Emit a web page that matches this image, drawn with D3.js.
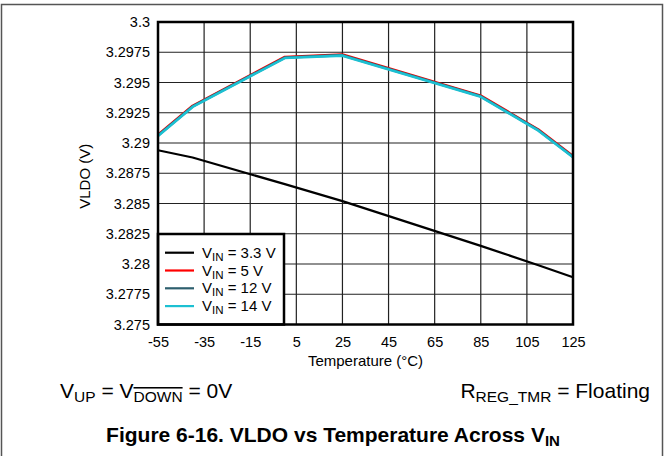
<!DOCTYPE html>
<html>
<head>
<meta charset="utf-8">
<script src="https://cdn.jsdelivr.net/npm/d3@7"></script>
<style>
  html, body { margin: 0; padding: 0; background: #fff; }
  svg { display: block; font-family: "Liberation Sans", Arial, sans-serif; }
</style>
</head>
<body>
<svg id="chart" width="668" height="456"></svg>
<script>
// ---- data ----
const temps = [-55, -40, 0, 25, 85, 110, 125];
const vin33 = [3.2894, 3.2888, 3.2866, 3.2852, 3.2815, 3.2799, 3.2789];
const vin5  = [3.29068, 3.29308, 3.29712, 3.29732, 3.29392, 3.29112, 3.28892];
const vin12 = [3.29062, 3.29302, 3.29706, 3.29726, 3.29386, 3.29106, 3.28886];
const vin14 = [3.29058, 3.29298, 3.29702, 3.29722, 3.29382, 3.29102, 3.28882];
const seriesNames = ["3.3 V", "5 V", "12 V", "14 V"];
const seriesColors = ["#000000", "#ff0000", "#2e5f6e", "#1cc0d2"];
const xTicks = [-55, -35, -15, 5, 25, 45, 65, 85, 105, 125];
const yTicks = [3.275, 3.2775, 3.28, 3.2825, 3.285, 3.2875, 3.29, 3.2925, 3.295, 3.2975, 3.3];
const yTickLabels = ["3.275", "3.2775", "3.28", "3.2825", "3.285", "3.2875", "3.29", "3.2925", "3.295", "3.2975", "3.3"];

const svg = d3.select("#chart");
const L = 158, R = 573, T = 22, B = 324.5;
const FONT = "Liberation Sans, Arial, sans-serif";

const x = d3.scaleLinear().domain([-55, 125]).range([L, R]);
const y = d3.scaleLinear().domain([3.275, 3.3]).range([B, T]);

// outer frame
svg.append("path")
  .attr("d", `M1.5,460 L1.5,4.5 L662.5,4.5 L662.5,460`)
  .attr("fill", "none").attr("stroke", "#555").attr("stroke-width", 1.5);

// grid
const g = svg.append("g");
g.selectAll("line.vx").data(xTicks.slice(1, -1)).enter().append("line")
  .attr("x1", d => x(d)).attr("x2", d => x(d)).attr("y1", T).attr("y2", B)
  .attr("stroke", "#222").attr("stroke-width", 1.2);
g.selectAll("line.hy").data(yTicks.slice(1, -1)).enter().append("line")
  .attr("x1", L).attr("x2", R).attr("y1", d => y(d)).attr("y2", d => y(d))
  .attr("stroke", "#222").attr("stroke-width", 1.2);

// axes labels via d3 axes (no lines)
const xAxis = d3.axisBottom(x).tickValues(xTicks).tickSize(0).tickPadding(12).tickFormat(d => String(d));
const xa = svg.append("g").attr("transform", `translate(0,${B})`).call(xAxis);
xa.select(".domain").remove();
xa.selectAll("text").attr("font-size", 14.5).attr("fill", "#000").attr("font-family", FONT);

const yAxis = d3.axisLeft(y).tickValues(yTicks).tickSize(0).tickPadding(8)
  .tickFormat((d, i) => yTickLabels[i]);
const ya = svg.append("g").attr("transform", `translate(${L},0)`).call(yAxis);
ya.select(".domain").remove();
ya.selectAll("text").attr("font-size", 14.5).attr("fill", "#000").attr("font-family", FONT);

// lines
const allSeries = [vin33, vin5, vin12, vin14];
const line = d3.line().x((d, i) => x(temps[i])).y(d => y(d));
const widths = [2.2, 2.4, 2.6, 2.6];
[0, 1, 2, 3].forEach(k => {
  svg.append("path").datum(allSeries[k])
    .attr("d", line)
    .attr("fill", "none")
    .attr("stroke", seriesColors[k])
    .attr("stroke-width", widths[k])
    .attr("stroke-linejoin", "round");
});

// legend
const lg = svg.append("g");
const lgRight = 284, lgTop = 234;
lg.append("rect").attr("x", L).attr("y", lgTop).attr("width", lgRight - L).attr("height", B - lgTop)
  .attr("fill", "#fff").attr("stroke", "#000").attr("stroke-width", 2.5);
seriesNames.forEach((nm, i) => {
  const yy = 252.7 + i * 17.8;
  lg.append("line").attr("x1", 165).attr("x2", 194).attr("y1", yy).attr("y2", yy)
    .attr("stroke", seriesColors[i]).attr("stroke-width", 2.2);
  const t = lg.append("text").attr("x", 202).attr("y", yy + 5).attr("font-size", 15).attr("fill", "#000");
  t.append("tspan").text("V");
  t.append("tspan").attr("font-size", 11.5).attr("dy", 3).text("IN");
  t.append("tspan").attr("dy", -3).text(" = " + nm);
});

// plot border on top
svg.append("rect").attr("x", L).attr("y", T).attr("width", R - L).attr("height", B - T)
  .attr("fill", "none").attr("stroke", "#000").attr("stroke-width", 2.5);

// axis titles
svg.append("text").attr("x", (L + R) / 2).attr("y", 366).attr("text-anchor", "middle")
  .attr("font-size", 15).text("Temperature (°C)");
svg.append("text").attr("transform", `translate(90,${(T + B) / 2 + 3}) rotate(-90)`)
  .attr("text-anchor", "middle").attr("font-size", 15).text("VLDO (V)");

// condition notes
const n1 = svg.append("text").attr("x", 60).attr("y", 398).attr("font-size", 21).attr("fill", "#000");
n1.append("tspan").text("V");
n1.append("tspan").attr("font-size", 15.5).attr("dy", 4).text("UP");
n1.append("tspan").attr("dy", -4).text(" = V");
n1.append("tspan").attr("font-size", 15.5).attr("dy", 4).attr("text-decoration", "overline").text("DOWN");
n1.append("tspan").attr("dy", -4).text(" = 0V");

const n2 = svg.append("text").attr("x", 650).attr("y", 398).attr("font-size", 21).attr("fill", "#000").attr("text-anchor", "end");
n2.append("tspan").text("R");
n2.append("tspan").attr("font-size", 15.5).attr("dy", 4).text("REG_TMR");
n2.append("tspan").attr("dy", -4).text(" = Floating");

// figure title
const tt = svg.append("text").attr("x", 333).attr("y", 442).attr("text-anchor", "middle")
  .attr("font-size", 21).attr("font-weight", "bold").attr("fill", "#000");
tt.append("tspan").text("Figure 6-16. VLDO vs Temperature Across V");
tt.append("tspan").attr("font-size", 15).attr("dy", 4).text("IN");
</script>
</body>
</html>
